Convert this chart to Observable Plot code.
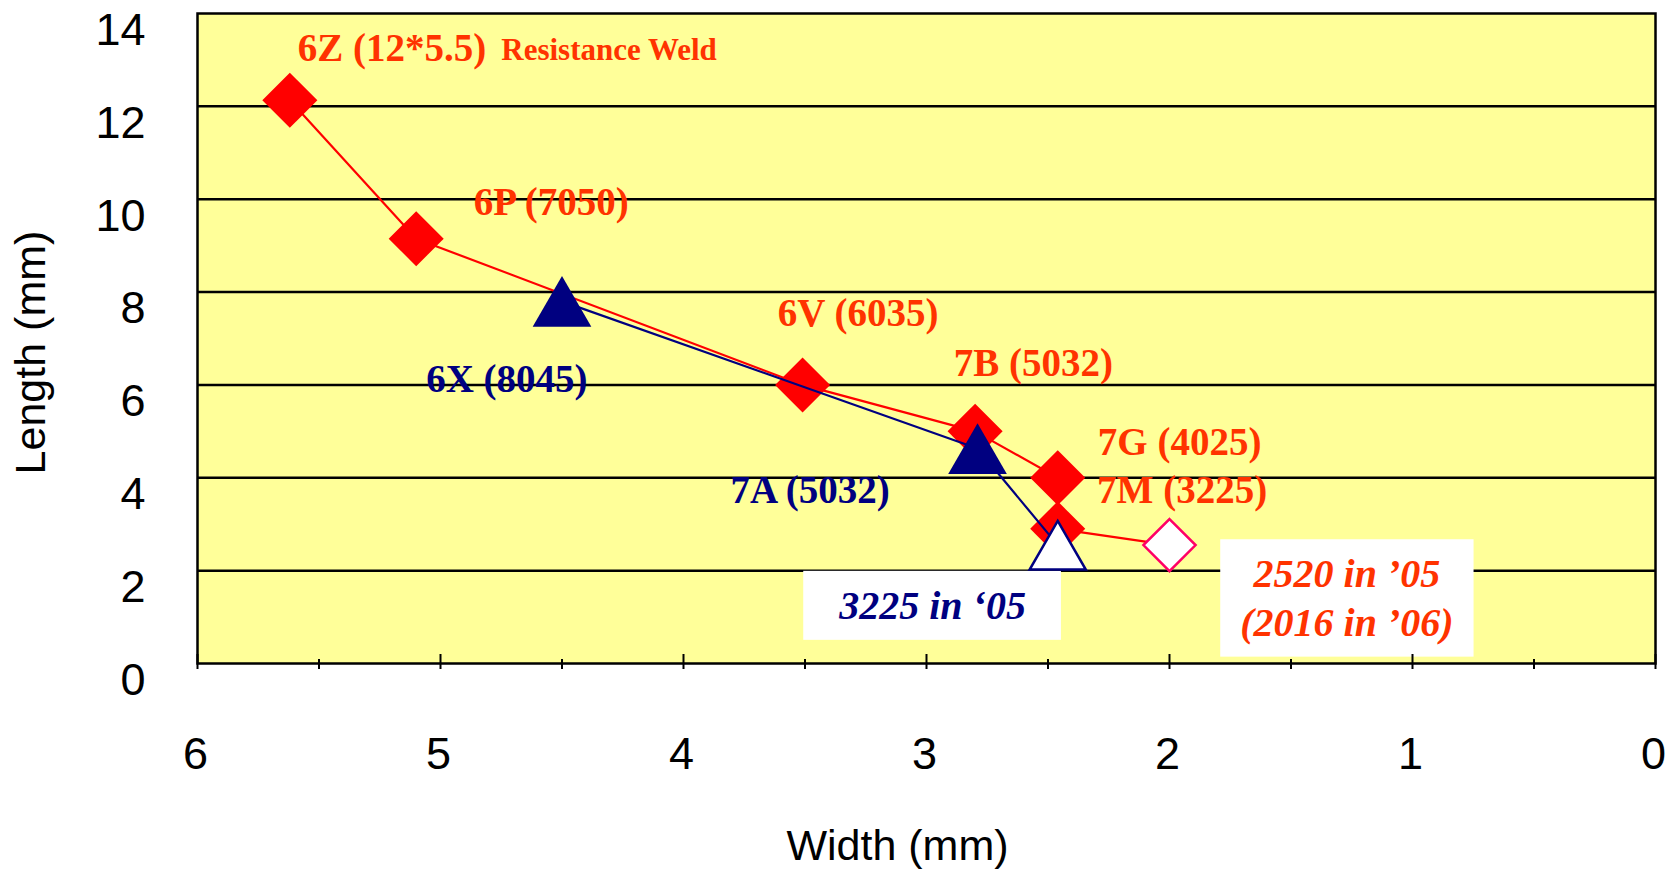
<!DOCTYPE html>
<html>
<head>
<meta charset="utf-8">
<script src="https://cdn.jsdelivr.net/npm/d3@7"></script>
<script src="https://cdn.jsdelivr.net/npm/@observablehq/plot@0.6"></script>
<style>
  html, body { margin: 0; padding: 0; background: #ffffff; }
  svg { display: block; }
</style>
</head>
<body>
<script>
// ---------- DATA ----------
// Red series (diamonds): chip sizes, width vs length (mm)
const redNames  = ["6Z", "6P", "6V", "7B", "7G", "7M", "2520"];
const redWidth  = [5.62, 5.1, 3.51, 2.8, 2.46, 2.46, 2.0];
const redLength = [12.13, 9.15, 6.0, 5.0, 4.0, 2.9, 2.55];
const redOpen   = [false, false, false, false, false, false, true];

// Blue series (triangles)
const blueNames  = ["6X", "7A", "3225"];
const blueWidth  = [4.5, 2.79, 2.46];
const blueLength = [7.8, 4.63, 2.55];
const blueOpen   = [false, false, true];

// Axis ticks
const xTicks = [0, 1, 2, 3, 4, 5, 6];
const xMinorTicks = [0.5, 1.5, 2.5, 3.5, 4.5, 5.5];
const yTicks = [0, 2, 4, 6, 8, 10, 12, 14];
const yGrid = [2, 4, 6, 8, 10, 12];

// Annotations (anchored in data units: width, length)
const redLabels  = ["6Z (12*5.5)", "6P (7050)", "6V (6035)", "7B (5032)", "7G (4025)", "7M (3225)"];
const redLabelW  = [5.587, 4.863, 3.612, 2.888, 2.295, 2.298];
const redLabelL  = [12.97, 9.652, 7.274, 6.198, 4.489, 3.463];
const noteLabels = ["Resistance Weld"];
const noteLabelW = [4.75];
const noteLabelL = [12.99];
const blueLabels = ["6X (8045)", "7A (5032)"];
const blueLabelW = [5.059, 3.807];
const blueLabelL = [5.845, 3.45];
const futureBlueText = ["3225 in \u201805"];
const futureBlueW = [2.975];
const futureBlueL = [0.962];
const futureRedText = ["2520 in \u201905\n(2016 in \u201906)"];
const futureRedW = [1.27];
const futureRedL = [0.6];

// ---------- BUILD ----------
const redData = redNames.map((n, i) => ({name: n, w: redWidth[i], l: redLength[i], open: redOpen[i]}));
const blueData = blueNames.map((n, i) => ({name: n, w: blueWidth[i], l: blueLength[i], open: blueOpen[i]}));
const zip = (t, w, l) => t.map((s, i) => ({t: s, w: w[i], l: l[i]}));

const SANS = "'Liberation Sans', Arial, Helvetica, sans-serif";
const SERIF = "'Liberation Serif', 'Times New Roman', Times, serif";
const RED = "#FF0000", LABEL_RED = "#FF3300", NAVY = "#000080";

const svg = Plot.plot({
  width: 1668,
  height: 871,
  marginTop: 13,
  marginRight: 13,
  marginBottom: 208,
  marginLeft: 197,
  x: {domain: [6, 0]},
  y: {domain: [0, 14]},
  style: {background: "transparent", color: "black", fontFamily: SANS, overflow: "visible"},
  marks: [
    Plot.frame({fill: "#FFFF99", stroke: "none"}),
    Plot.gridY(yGrid, {stroke: "black", strokeOpacity: 1, strokeWidth: 2.5}),

    // boxed future annotations (white boxes added after render)
    Plot.text(zip(futureBlueText, futureBlueW, futureBlueL), {
      x: "w", y: "l", text: "t", textAnchor: "middle", lineAnchor: "bottom",
      fill: NAVY, fontFamily: SERIF, fontWeight: "bold", fontStyle: "italic", fontSize: 40
    }),
    Plot.text(zip(futureRedText, futureRedW, futureRedL), {
      x: "w", y: "l", text: "t", textAnchor: "middle", lineAnchor: "bottom", lineHeight: 1.21,
      fill: LABEL_RED, fontFamily: SERIF, fontWeight: "bold", fontStyle: "italic", fontSize: 40
    }),

    // series lines and markers
    Plot.line(redData, {x: "w", y: "l", stroke: RED, strokeWidth: 2.2}),
    Plot.dot(redData.filter(d => !d.open), {x: "w", y: "l", symbol: "diamond2", r: 24.8, fill: RED, stroke: "none"}),
    Plot.line(blueData, {x: "w", y: "l", stroke: NAVY, strokeWidth: 2.2}),
    Plot.dot(blueData.filter(d => !d.open), {x: "w", y: "l", symbol: "triangle2", r: 28, dy: 8.5, fill: NAVY, stroke: "none"}),
    Plot.dot(blueData.filter(d => d.open), {x: "w", y: "l", symbol: "triangle2", r: 26.8, dy: 8.2, fill: "white", stroke: NAVY, strokeWidth: 2.5}),
    Plot.dot(redData.filter(d => d.open), {x: "w", y: "l", symbol: "diamond2", r: 23.5, fill: "white", stroke: "#FF0066", strokeWidth: 2.5}),

    // labels
    Plot.text(zip(redLabels, redLabelW, redLabelL), {
      x: "w", y: "l", text: "t", textAnchor: "start", lineAnchor: "bottom",
      fill: LABEL_RED, fontFamily: SERIF, fontWeight: "bold", fontSize: 39
    }),
    Plot.text(zip(noteLabels, noteLabelW, noteLabelL), {
      x: "w", y: "l", text: "t", textAnchor: "start", lineAnchor: "bottom",
      fill: LABEL_RED, fontFamily: SERIF, fontWeight: "bold", fontSize: 31
    }),
    Plot.text(zip(blueLabels, blueLabelW, blueLabelL), {
      x: "w", y: "l", text: "t", textAnchor: "start", lineAnchor: "bottom",
      fill: NAVY, fontFamily: SERIF, fontWeight: "bold", fontSize: 39
    }),

    // frame border
    Plot.frame({stroke: "black", strokeWidth: 2.5}),

    // x tick marks (major cross the axis, minor mostly below)
    Plot.ruleX(xTicks, {x: d => d, y1: 0, y2: 0, insetTop: 6, insetBottom: 9, stroke: "black", strokeWidth: 2}),
    Plot.ruleX(xMinorTicks, {x: d => d, y1: 0, y2: 0, insetTop: 6, insetBottom: 4, stroke: "black", strokeWidth: 2}),

    // axes
    Plot.axisX(xTicks, {tickSize: 0, tickPadding: 74, fontSize: 45, dx: -2, label: null, fontFamily: SANS, tickFormat: d => String(d)}),
    Plot.axisY(yTicks, {tickSize: 0, tickPadding: 52, fontSize: 45, dy: 17, label: null, fontFamily: SANS, tickFormat: d => String(d)}),

    // axis titles
    Plot.text(["Width (mm)"], {frameAnchor: "bottom", text: d => d, textAnchor: "middle", lineAnchor: "bottom",
      dx: -29, dy: 196, fontSize: 43, fontFamily: SANS, fill: "black"}),
    Plot.text(["Length (mm)"], {frameAnchor: "left", text: d => d, rotate: -90, textAnchor: "middle", lineAnchor: "middle",
      dx: -166, dy: 14, fontSize: 43, fontFamily: SANS, fill: "black"})
  ]
});

document.body.append(svg);

// white boxes behind the "in '05" notes
const boxPads = {"3225 in": [35, 12], "2520 in": [20, 12]};
svg.querySelectorAll("text").forEach(t => {
  const key = Object.keys(boxPads).find(k => (t.textContent || "").startsWith(k));
  if (!key) return;
  const [px, py] = boxPads[key];
  const b = t.getBBox();
  const r = document.createElementNS("http://www.w3.org/2000/svg", "rect");
  r.setAttribute("x", b.x - px);
  r.setAttribute("y", b.y - py);
  r.setAttribute("width", b.width + 2 * px);
  r.setAttribute("height", b.height + 2 * py);
  r.setAttribute("fill", "white");
  r.setAttribute("stroke", "none");
  const tr = t.getAttribute("transform");
  if (tr) r.setAttribute("transform", tr);
  t.parentNode.insertBefore(r, t);
});
</script>
</body>
</html>
